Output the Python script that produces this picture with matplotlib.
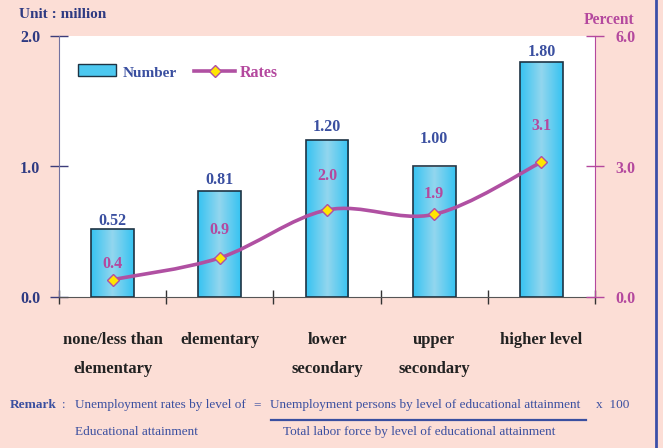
import numpy as np
import matplotlib
matplotlib.use("Agg")
import matplotlib.pyplot as plt
from matplotlib.path import Path
from matplotlib.patches import PathPatch, Rectangle
from matplotlib.lines import Line2D
from matplotlib.colors import LinearSegmentedColormap

categories = ["none/less than\nelementary", "elementary", "lower\nsecondary",
              "upper\nsecondary", "higher level"]
numbers = [0.52, 0.81, 1.20, 1.00, 1.80]
number_labels = ["0.52", "0.81", "1.20", "1.00", "1.80"]
rates = [0.4, 0.9, 2.0, 1.9, 3.1]
rate_labels = ["0.4", "0.9", "2.0", "1.9", "3.1"]
left_ticks = [0.0, 1.0, 2.0]
right_ticks = [0.0, 3.0, 6.0]

# label offsets (points)
num_offsets = [5.8, 8.0, 10.0, 20.0, 7.5]
rate_offsets = [11.5, 20.0, 24.5, 14.4, 26.0]

BG = "#FCDED6"
NAVY = "#2E3A82"
BLUE = "#3A4FA0"
PURPLE = "#B4489E"
LINE = "#B050A2"
SERIF = "Liberation Serif"

plt.rcParams["font.family"] = [SERIF, "DejaVu Serif"]

fig = plt.figure(figsize=(6.63, 4.48), dpi=100, facecolor=BG)
ax = fig.add_axes([59/663, 1-297/448, 536/663, 261/448])
ax.set_facecolor("white")
ax2 = ax.twinx()

x = np.arange(len(categories))

# bars with gradient
bars = ax.bar(x, numbers, width=0.4, facecolor="none", edgecolor="#1E3344",
              linewidth=1.2, zorder=3)
g = np.interp(np.linspace(0, 4, 200), np.arange(5), [0.0, 0.5, 1.0, 0.5, 0.0])[None, :]
cmap = LinearSegmentedColormap.from_list("c", ["#36C3F2", "#92D6EE"])
for b in bars:
    x0, y0 = b.get_x(), b.get_y()
    w, h = b.get_width(), b.get_height()
    im = ax.imshow(g, cmap=cmap, aspect="auto", extent=[x0, x0 + w, y0, y0 + h],
                   zorder=2, interpolation="bilinear")
    im.set_clip_path(b)
ax.set_xlim(-0.5, len(categories) - 0.5)
ax.set_ylim(0, 2.0)
ax2.set_ylim(0, 6.0)

for xi, v, lab, off in zip(x, numbers, number_labels, num_offsets):
    ax.annotate(lab, (xi, v), xytext=(0, off), textcoords="offset points",
                ha="center", va="center", fontsize=11.5, fontweight="bold",
                color=BLUE, zorder=5)

# smooth line (Catmull-Rom as Bezier)
pts = np.column_stack([x, rates]).astype(float)
ext = np.vstack([pts[0], pts, pts[-1]])
verts = [tuple(pts[0])]
codes = [Path.MOVETO]
for i in range(len(pts) - 1):
    p0, p1, p2, p3 = ext[i], ext[i + 1], ext[i + 2], ext[i + 3]
    c1 = p1 + (p2 - p0) / 6.0
    c2 = p2 - (p3 - p1) / 6.0
    verts += [tuple(c1), tuple(c2), tuple(p2)]
    codes += [Path.CURVE4] * 3
ax2.add_patch(PathPatch(Path(verts, codes), facecolor="none", edgecolor=LINE,
                        linewidth=2.6, zorder=4, capstyle="round"))
ax2.plot(x, rates, linestyle="none", marker="D", markersize=6.5,
         markerfacecolor="#FFE600", markeredgecolor=LINE, markeredgewidth=1.0, zorder=6)
for xi, v, lab, off in zip(x, rates, rate_labels, rate_offsets):
    ax2.annotate(lab, (xi, v), xytext=(0, off), textcoords="offset points",
                 ha="center", va="center", fontsize=11.5, fontweight="bold",
                 color=PURPLE, zorder=6)

# axes styling
ax.spines["top"].set_visible(False)
ax2.spines["top"].set_visible(False)
ax.spines["right"].set_visible(False)
ax2.spines["left"].set_visible(False)
ax2.spines["bottom"].set_visible(False)
ax.spines["left"].set_color("#7272A0")
ax.spines["bottom"].set_color("#555555")
ax2.spines["right"].set_color(PURPLE)

ax.set_yticks(left_ticks)
ax.set_yticklabels([f"{t:.1f}" for t in left_ticks], fontsize=11.5, fontweight="bold", color=NAVY)
ax.tick_params(axis="y", direction="inout", length=13, color="#3C3C7A", pad=7, width=1.0)
ax2.set_yticks(right_ticks)
ax2.set_yticklabels([f"{t:.1f}" for t in right_ticks], fontsize=11.5, fontweight="bold", color=PURPLE)
ax2.tick_params(axis="y", direction="inout", length=13, color=PURPLE, pad=8, width=1.0)

ax.set_xticks(np.arange(-0.5, len(categories), 1.0), minor=False)
ax.set_xticklabels([])
ax.tick_params(axis="x", direction="inout", length=10, color="#333333", width=1.0)
ax.set_xticks(x, minor=True)
ax.set_xticklabels(categories, minor=True, fontsize=12, fontweight="bold",
                   color="#222222", va="top", linespacing=2.08)
ax.tick_params(axis="x", which="minor", length=0, pad=25)

# legend (manual)
ax.add_patch(Rectangle((0.0354, 0.847), 0.071, 0.046, transform=ax.transAxes,
                       facecolor="#4CC8F0", edgecolor="#1E3344", linewidth=1.0, zorder=7))
ax.text(0.1194, 0.858, "Number", transform=ax.transAxes, fontsize=11, fontweight="bold",
        color=BLUE, va="center", ha="left")
ax.add_line(Line2D([0.252, 0.328], [0.866, 0.866], transform=ax.transAxes, color=LINE,
                   linewidth=2.6, zorder=7))
ax.add_line(Line2D([0.291], [0.866], transform=ax.transAxes, linestyle="none", marker="D",
                   markersize=6.5, markerfacecolor="#FFE600", markeredgecolor=LINE, zorder=8))
ax.text(0.338, 0.858, "Rates", transform=ax.transAxes, fontsize=11.5, fontweight="bold",
        color=PURPLE, va="center", ha="left")

# titles
fig.text(19/663, 1-15/448, "Unit : million", fontsize=11, fontweight="bold", color=NAVY,
         va="center", ha="left")
fig.text(634/663, 1-20/448, "Percent", fontsize=11.2, fontweight="bold", color=PURPLE,
         va="center", ha="right")

# remark
RS = 9.5
fig.text(10/663, 1-405/448, "Remark", fontsize=RS, fontweight="bold", color=BLUE, va="center")
fig.text(62/663, 1-405/448, ":", fontsize=RS, color=BLUE, va="center")
fig.text(75/663, 1-405/448, "Unemployment rates by level of", fontsize=RS, color=BLUE, va="center")
fig.text(75/663, 1-432/448, "Educational attainment", fontsize=RS, color=BLUE, va="center")
fig.text(253/663, 1-405/448, "=", fontsize=RS, color=BLUE, va="center")
fig.text(270/663, 1-405/448, "Unemployment persons by level of educational attainment",
         fontsize=RS, color=BLUE, va="center")
fig.text(596/663, 1-405/448, "x  100", fontsize=RS, color=BLUE, va="center")
fig.add_artist(Line2D([271/663, 586/663], [1-420/448, 1-420/448], color=BLUE, linewidth=1.6))
fig.text(283/663, 1-432/448, "Total labor force by level of educational attainment",
         fontsize=RS, color=BLUE, va="center")

# right border line
fig.add_artist(Line2D([656/663, 656/663], [0, 1], color="#3B4FA8", linewidth=2.0))

fig.savefig("out.png", dpi=100, facecolor=BG)
